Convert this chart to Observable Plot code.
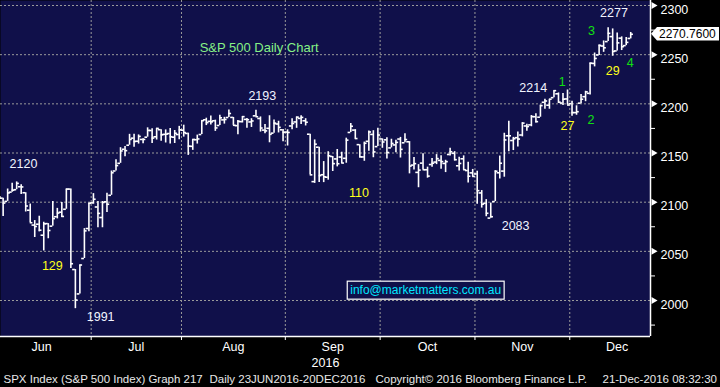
<!DOCTYPE html>
<html><head><meta charset="utf-8">
<script src="https://cdn.jsdelivr.net/npm/d3@7"></script>
<script src="https://cdn.jsdelivr.net/npm/@observablehq/plot@0.6"></script>
<style>
html,body{margin:0;padding:0;background:#000;}
#chart svg{display:block;}
</style></head><body><div id="chart"></div>
<script>
// ---- data ----
const dates = [
"2016-06-01","2016-06-02","2016-06-03","2016-06-06","2016-06-07","2016-06-08","2016-06-09","2016-06-10","2016-06-13","2016-06-14","2016-06-15","2016-06-16","2016-06-17","2016-06-20","2016-06-21","2016-06-22","2016-06-23","2016-06-24","2016-06-27","2016-06-28","2016-06-29","2016-06-30",
"2016-07-01","2016-07-05","2016-07-06","2016-07-07","2016-07-08","2016-07-11","2016-07-12","2016-07-13","2016-07-14","2016-07-15","2016-07-18","2016-07-19","2016-07-20","2016-07-21","2016-07-22","2016-07-25","2016-07-26","2016-07-27","2016-07-28","2016-07-29",
"2016-08-01","2016-08-02","2016-08-03","2016-08-04","2016-08-05","2016-08-08","2016-08-09","2016-08-10","2016-08-11","2016-08-12","2016-08-15","2016-08-16","2016-08-17","2016-08-18","2016-08-19","2016-08-22","2016-08-23","2016-08-24","2016-08-25","2016-08-26","2016-08-29","2016-08-30","2016-08-31",
"2016-09-01","2016-09-02","2016-09-06","2016-09-07","2016-09-08","2016-09-09","2016-09-12","2016-09-13","2016-09-14","2016-09-15","2016-09-16","2016-09-19","2016-09-20","2016-09-21","2016-09-22","2016-09-23","2016-09-26","2016-09-27","2016-09-28","2016-09-29","2016-09-30",
"2016-10-03","2016-10-04","2016-10-05","2016-10-06","2016-10-07","2016-10-10","2016-10-11","2016-10-12","2016-10-13","2016-10-14","2016-10-17","2016-10-18","2016-10-19","2016-10-20","2016-10-21","2016-10-24","2016-10-25","2016-10-26","2016-10-27","2016-10-28","2016-10-31",
"2016-11-01","2016-11-02","2016-11-03","2016-11-04","2016-11-07","2016-11-08","2016-11-09","2016-11-10","2016-11-11","2016-11-14","2016-11-15","2016-11-16","2016-11-17","2016-11-18","2016-11-21","2016-11-22","2016-11-23","2016-11-25","2016-11-28","2016-11-29","2016-11-30",
"2016-12-01","2016-12-02","2016-12-05","2016-12-06","2016-12-07","2016-12-08","2016-12-09","2016-12-12","2016-12-13","2016-12-14","2016-12-15","2016-12-16","2016-12-19","2016-12-20"];

const opens = [
2093.9,2097.7,2104.1,2100.8,2110.2,2112.7,2115.7,2109.6,2091.8,2076.7,2077.6,2066.4,2078.2,2075.6,2085.2,2089.8,2092.8,2113.3,2031.5,2006.7,2042.7,2073.2,
2099.3,2095.1,2084.4,2100.4,2107.0,2131.7,2139.5,2153.8,2157.9,2165.1,2162.0,2163.8,2166.1,2172.9,2166.5,2173.7,2169.0,2169.8,2166.1,2168.8,
2173.2,2169.9,2156.8,2163.5,2168.8,2183.8,2182.2,2182.8,2178.0,2183.7,2186.1,2186.2,2177.8,2181.9,2184.2,2181.6,2187.8,2185.1,2173.3,2175.1,2170.2,2179.5,2173.6,
2171.3,2177.5,2181.6,2185.2,2182.8,2169.1,2120.9,2155.9,2127.9,2125.4,2146.5,2144.0,2145.9,2144.6,2170.9,2173.3,2158.5,2146.0,2161.9,2168.9,2156.5,
2164.3,2163.4,2155.2,2158.2,2164.2,2160.4,2161.4,2137.7,2130.3,2139.7,2133.0,2138.3,2140.8,2142.5,2139.4,2148.5,2149.7,2137.0,2144.1,2132.2,2129.8,
2128.7,2109.4,2098.8,2083.8,2100.6,2129.9,2131.6,2167.5,2162.7,2165.6,2168.3,2177.5,2178.6,2186.9,2186.4,2201.6,2198.6,2206.3,2210.2,2200.8,2205.0,
2200.2,2191.1,2200.7,2207.3,2210.7,2241.1,2249.7,2258.8,2263.3,2268.4,2253.8,2266.8,2259.2,2266.5];

const highs = [
2101.0,2105.3,2104.1,2113.4,2119.2,2120.6,2117.6,2109.6,2098.1,2081.3,2085.7,2079.6,2078.2,2100.7,2093.7,2099.7,2113.3,2113.3,2031.5,2036.1,2073.1,2098.9,
2108.7,2100.7,2100.7,2109.1,2131.7,2143.2,2155.4,2156.5,2169.0,2169.1,2168.4,2164.6,2175.6,2174.6,2175.1,2173.7,2173.5,2175.0,2172.9,2177.1,
2178.3,2170.2,2163.8,2168.2,2182.9,2185.4,2187.7,2183.4,2188.5,2186.3,2193.8,2186.2,2183.1,2187.0,2185.0,2184.9,2193.4,2186.7,2179.0,2187.9,2183.5,2182.3,2173.8,
2173.6,2184.9,2186.6,2187.9,2184.9,2169.1,2163.3,2155.9,2141.3,2151.3,2146.5,2153.6,2150.8,2165.1,2180.0,2173.8,2158.5,2161.1,2172.4,2172.7,2175.3,
2164.4,2165.5,2164.0,2162.9,2165.9,2169.6,2161.6,2145.4,2138.2,2149.2,2135.6,2144.4,2148.4,2147.2,2142.6,2154.8,2151.4,2145.7,2147.1,2140.7,2133.3,
2131.5,2111.8,2102.6,2099.1,2132.0,2146.9,2170.1,2182.3,2165.9,2171.4,2180.8,2179.2,2188.1,2189.9,2198.7,2204.8,2204.7,2213.4,2211.1,2210.5,2214.1,
2202.6,2198.0,2209.4,2212.8,2241.6,2251.7,2259.8,2264.0,2277.5,2276.2,2272.1,2268.1,2267.5,2272.6];

const lows = [
2085.1,2088.6,2085.4,2100.8,2110.2,2112.7,2107.7,2090.0,2079.1,2064.1,2069.8,2050.4,2062.8,2075.6,2083.0,2084.4,2092.8,2032.6,1991.7,2006.7,2042.7,2070.0,
2097.9,2074.0,2074.0,2089.4,2107.0,2131.7,2139.5,2146.2,2157.9,2155.8,2159.1,2159.4,2166.1,2159.8,2163.2,2162.0,2160.2,2159.1,2159.7,2163.5,
2166.2,2147.6,2152.7,2159.1,2168.8,2177.9,2178.6,2172.0,2178.0,2179.4,2186.1,2178.1,2168.5,2180.5,2175.1,2176.0,2186.8,2171.3,2169.7,2160.4,2170.2,2170.4,2161.4,
2157.1,2173.6,2175.1,2179.1,2177.5,2127.8,2119.1,2120.1,2119.9,2122.4,2131.2,2135.9,2139.2,2139.6,2170.9,2164.0,2145.0,2141.6,2151.8,2145.2,2156.5,
2154.8,2144.0,2155.2,2150.3,2144.9,2160.4,2128.8,2132.8,2114.7,2133.0,2124.4,2135.5,2138.2,2133.4,2130.1,2146.9,2141.9,2131.6,2132.5,2119.4,2125.5,
2097.9,2094.0,2085.2,2083.8,2100.6,2123.6,2125.4,2151.2,2152.5,2156.1,2166.4,2172.2,2176.7,2180.4,2186.4,2194.5,2194.5,2206.3,2200.4,2198.2,2198.8,
2187.4,2188.4,2200.0,2202.2,2208.9,2237.6,2249.2,2252.4,2263.3,2248.4,2253.8,2254.2,2259.2,2266.1];

const closes = [
2099.3,2105.3,2099.1,2109.4,2112.1,2119.1,2115.5,2096.1,2079.1,2075.3,2071.5,2078.0,2071.2,2083.3,2088.9,2085.5,2113.3,2037.4,2000.5,2036.1,2070.8,2098.9,
2103.0,2088.6,2099.7,2097.9,2129.9,2137.2,2152.1,2152.4,2163.8,2161.7,2166.9,2163.8,2173.0,2165.2,2175.0,2168.5,2169.2,2166.6,2170.1,2173.6,
2170.8,2157.0,2163.8,2164.3,2182.9,2180.9,2181.7,2175.5,2185.8,2184.1,2190.2,2178.2,2182.2,2187.0,2183.9,2182.6,2186.9,2175.4,2172.5,2169.0,2180.4,2176.1,2171.0,
2170.9,2180.0,2186.5,2186.2,2181.3,2127.8,2159.0,2127.0,2125.8,2147.3,2139.2,2139.1,2139.8,2163.1,2177.2,2164.7,2146.1,2159.9,2171.4,2151.1,2168.3,
2161.2,2150.5,2159.7,2160.8,2153.7,2163.7,2136.7,2139.2,2132.6,2133.0,2126.5,2139.6,2144.3,2141.3,2141.2,2151.3,2143.2,2139.4,2133.0,2126.4,2126.2,
2111.7,2097.9,2088.7,2085.2,2131.5,2139.6,2163.3,2167.5,2164.5,2164.2,2180.4,2176.9,2187.1,2181.9,2198.2,2202.9,2204.7,2213.4,2201.7,2204.7,2198.8,
2191.1,2192.0,2204.7,2212.2,2241.4,2246.2,2259.5,2257.0,2271.7,2253.3,2262.0,2258.1,2262.5,2270.76];

const monthNames = ["Jun","Jul","Aug","Sep","Oct","Nov","Dec"];
const tradingDaysInMonth = [22,20,23,21,21,21,21];
const priceTicks = [2000,2050,2100,2150,2200,2250,2300];
const minorTicks = [1975,2025,2075,2125,2175,2225,2275];
const yearLabel = ["2016"];
const titleLabel = ["S&P 500 Daily Chart"];
const emailLabel = "info@marketmatters.com.au";
const footerParts = ["SPX Index (S&P 500 Index) Graph 217","Daily 23JUN2016-20DEC2016","Copyright\u00A9 2016 Bloomberg Finance L.P.","21-Dec-2016 08:32:30"];
// annotation labels: text, trading-day index, price level
const whiteNotes = [
  {label:"2120", day:6.5, price:2139.3},
  {label:"2193", day:59.4, price:2207.5},
  {label:"1991", day:23.6, price:1983.7},
  {label:"2083", day:115.5, price:2075.3},
  {label:"2214", day:119.4, price:2215.9},
  {label:"2277", day:137.3, price:2292.6}];
const yellowNotes = [
  {label:"129", day:12.9, price:2034.6},
  {label:"110", day:80.8, price:2109.1},
  {label:"27", day:127.0, price:2177.0},
  {label:"29", day:137.0, price:2233.9}];
const greenNotes = [
  {label:"1", day:125.8, price:2222.7},
  {label:"2", day:132.2, price:2183.1},
  {label:"3", day:132.3, price:2273.6},
  {label:"4", day:140.9, price:2241.3}];

// ---- build ----
[opens, highs, lows, closes].forEach((a, k) => { if (a.length !== dates.length) throw new Error("length mismatch " + k + ": " + a.length + " vs " + dates.length); });
const data = dates.map((d, i) => ({i, date: new Date(d), open: opens[i], high: highs[i], low: lows[i], close: closes[i]}));
const monthStarts = [];
data.forEach((d, i) => { if (i === 0 || d.date.getUTCMonth() !== data[i-1].date.getUTCMonth()) monthStarts.push(i); });
const boundaries = monthStarts.slice(1).map(i => i - 0.5);
const monthTicks = monthStarts.map((s, k) => ({name: monthNames[k], at: s + (tradingDaysInMonth[k] - 1) / 2}));
const last = data[data.length - 1];

const navy = "#10104a";
const grid = "#9a9a9a";
const font = "'Liberation Sans', Arial, sans-serif";
const xDomain = [1.4175, 145.38];
const yDomain = [1963.4, 2305.1];

function measure(text, size) {
  const ctx = document.createElement("canvas").getContext("2d");
  ctx.font = size + "px " + font;
  return ctx.measureText(text).width;
}

function emailBox(index, scales, values, dims) {
  const cx = scales.x(95.7), cy = scales.y(2010);
  const w = measure(emailLabel, 12) + 6, h = 18;
  const g = d3.create("svg:g");
  g.append("rect").attr("x", cx - w/2).attr("y", cy - h/2).attr("width", w).attr("height", h)
    .attr("fill", navy).attr("stroke", "#fff").attr("stroke-width", 1.2);
  g.append("text").attr("x", cx).attr("y", cy).attr("dy", "0.35em").attr("text-anchor", "middle")
    .attr("fill", "#00e6ff").attr("font-size", 12).attr("font-family", font).text(emailLabel);
  return g.node();
}

function priceTag(index, scales, values, dims) {
  const y = scales.y(last.close);
  const x0 = dims.width - dims.marginRight;
  const g = d3.create("svg:g");
  g.append("path").attr("d", `M${x0+1},${y} L${x0+7},${y-6.8} H${dims.width-1} V${y+6.8} H${x0+7} Z`).attr("fill", "#fff");
  g.append("text").attr("x", x0 + 9).attr("y", y).attr("dy", "0.36em").attr("fill", "#000")
    .attr("text-anchor", "start")
    .attr("font-size", 12).attr("font-family", font).text(last.close.toFixed(4));
  return g.node();
}

const chart = Plot.plot({
  width: 720, height: 387,
  marginLeft: 0, marginRight: 70, marginTop: 0, marginBottom: 51,
  style: {background: "#000", color: "#fff", fontFamily: font, fontSize: "12px"},
  x: {type: "linear", domain: xDomain},
  y: {type: "linear", domain: yDomain},
  marks: [
    Plot.frame({fill: navy, stroke: "none"}),
    Plot.ruleY(priceTicks, {stroke: grid, strokeDasharray: "2,2", strokeWidth: 1}),
    Plot.ruleX(boundaries, {stroke: grid, strokeDasharray: "2,2", strokeWidth: 1}),
    // OHLC bars
    Plot.ruleX(data, {x: "i", y1: "low", y2: "high", stroke: "#fff", strokeWidth: 1.6, clip: true}),
    Plot.ruleY(data, {y: "open", x1: d => d.i - 0.6, x2: "i", stroke: "#fff", strokeWidth: 1.6, clip: true}),
    Plot.ruleY(data, {y: "close", x1: "i", x2: d => d.i + 0.6, stroke: "#fff", strokeWidth: 1.6, clip: true}),
    // axis lines
    Plot.ruleY([yDomain[0]], {stroke: "#fff", strokeWidth: 1.5}),
    Plot.ruleX([xDomain[1]], {stroke: "#fff", strokeWidth: 1.5}),
    // bottom axis
    Plot.axisX(boundaries, {anchor: "bottom", tickSize: 4, tickFormat: () => "", stroke: "#fff", label: null}),
    Plot.text(monthTicks, {x: "at", text: "name", frameAnchor: "bottom", lineAnchor: "middle", dy: 10, fill: "#fff", fontSize: 12.5}),
    Plot.text(yearLabel, {frameAnchor: "bottom", lineAnchor: "middle", dy: 26, fill: "#fff", fontSize: 12.5}),
    // right axis
    Plot.axisY(minorTicks, {anchor: "right", tickSize: 4, tickFormat: () => "", stroke: "#fff", label: null}),
    Plot.axisY(priceTicks, {anchor: "right", tickSize: 0, tickPadding: 10, tickFormat: d => String(d), fill: "#fff", fontSize: 12.5, dy: 4, label: null}),
    Plot.dot(priceTicks, {y: d => d, frameAnchor: "right", symbol: "triangle", r: 2.6, rotate: 90, dx: 3, fill: "#fff", stroke: "none"}),
    // annotations
    Plot.text(titleLabel, {x: 58.7, y: 2257.0, fill: "#86f086", fontSize: 13}),
    Plot.text(whiteNotes, {x: "day", y: "price", text: "label", fill: "#f2f4ff", fontSize: 12.5}),
    Plot.text(yellowNotes, {x: "day", y: "price", text: "label", fill: "#ffff1a", fontSize: 12.5}),
    Plot.text(greenNotes, {x: "day", y: "price", text: "label", fill: "#10e010", fontSize: 12.5}),
    emailBox,
    priceTag,
    // footer
    Plot.text([footerParts[0]], {frameAnchor: "bottom-left", lineAnchor: "middle", textAnchor: "start", dx: 3, dy: 43, fill: "#e8e8e8", fontSize: 11.5}),
    Plot.text([footerParts[1]], {frameAnchor: "bottom-left", lineAnchor: "middle", textAnchor: "start", dx: 209, dy: 43, fill: "#e8e8e8", fontSize: 11.5}),
    Plot.text([footerParts[2]], {frameAnchor: "bottom-left", lineAnchor: "middle", textAnchor: "start", dx: 375, dy: 43, fill: "#e8e8e8", fontSize: 11.5}),
    Plot.text([footerParts[3]], {frameAnchor: "bottom-left", lineAnchor: "middle", textAnchor: "start", dx: 602, dy: 43, fill: "#e8e8e8", fontSize: 11.5})
  ]
});
document.getElementById("chart").append(chart);
</script>
</body></html>
